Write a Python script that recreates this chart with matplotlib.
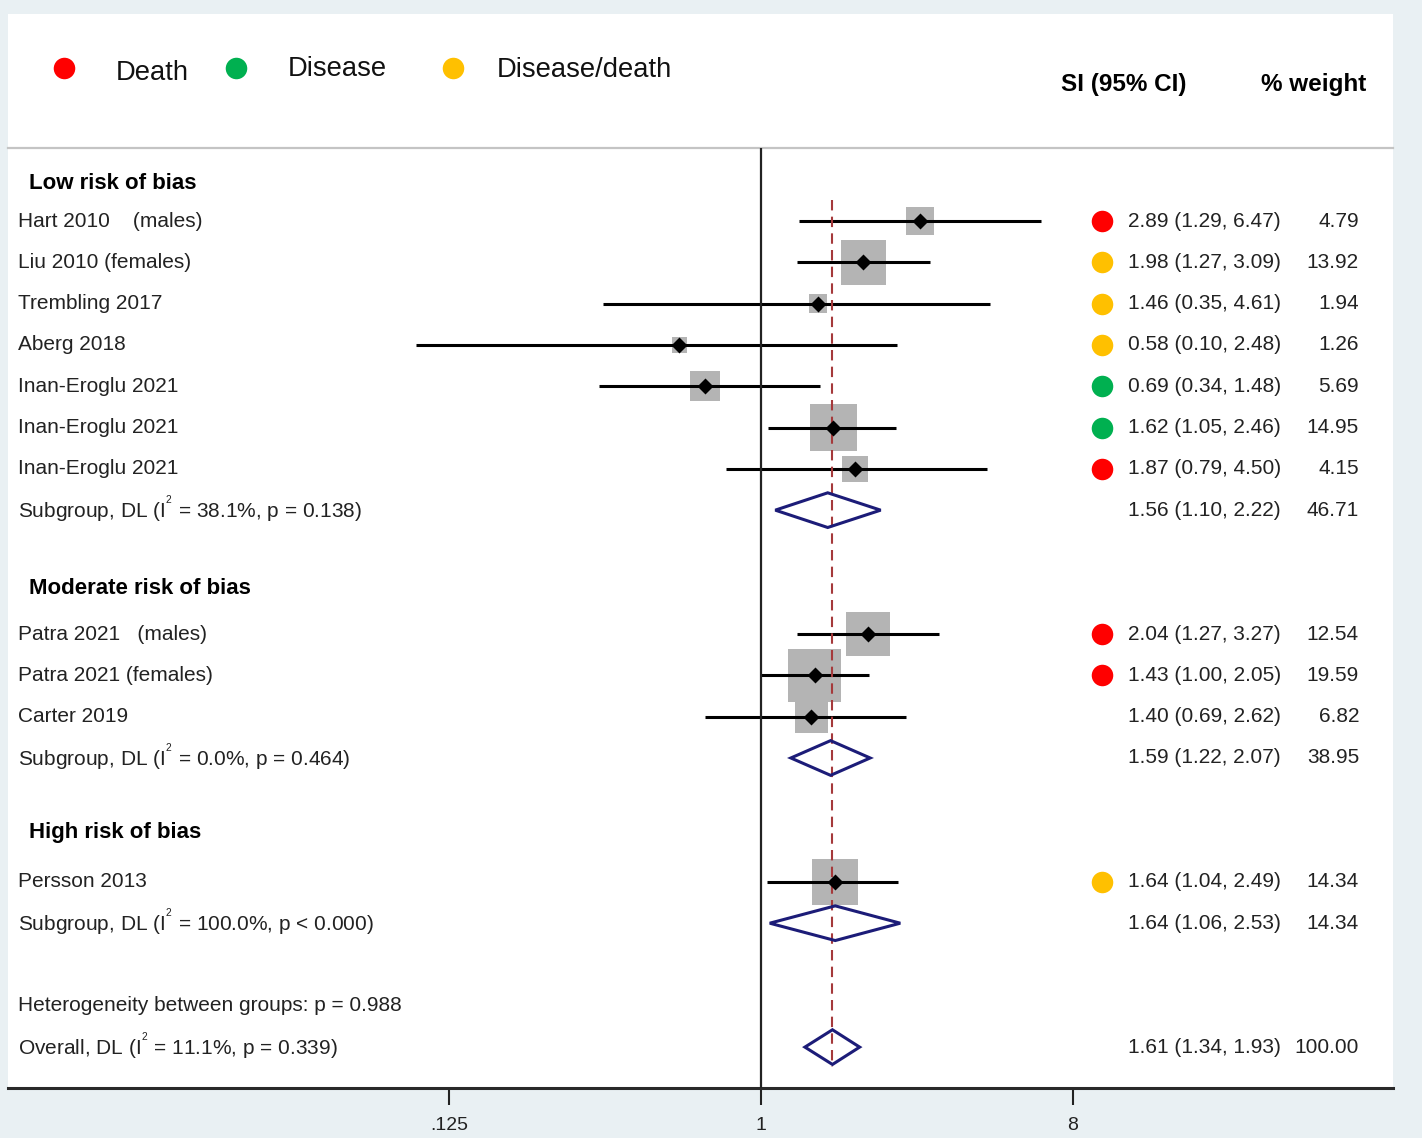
import numpy as np
import matplotlib.pyplot as plt
from matplotlib.patches import Polygon, Rectangle
from matplotlib.ticker import NullLocator
from matplotlib.transforms import blended_transform_factory

plt.rcParams['font.family'] = ['Liberation Sans', 'DejaVu Sans']
plt.rcParams['mathtext.fontset'] = 'custom'
plt.rcParams['mathtext.rm'] = 'Liberation Sans'

# study level data
studies = ["Hart 2010    (males)", "Liu 2010 (females)", "Trembling 2017", "Aberg 2018",
           "Inan-Eroglu 2021", "Inan-Eroglu 2021", "Inan-Eroglu 2021",
           "Patra 2021   (males)", "Patra 2021 (females)", "Carter 2019", "Persson 2013"]
est = [2.89, 1.98, 1.46, 0.58, 0.69, 1.62, 1.87, 2.04, 1.43, 1.40, 1.64]
lo = [1.29, 1.27, 0.35, 0.10, 0.34, 1.05, 0.79, 1.27, 1.00, 0.69, 1.04]
hi = [6.47, 3.09, 4.61, 2.48, 1.48, 2.46, 4.50, 3.27, 2.05, 2.62, 2.49]
weight = [4.79, 13.92, 1.94, 1.26, 5.69, 14.95, 4.15, 12.54, 19.59, 6.82, 14.34]
outcome = ["Death", "Disease/death", "Disease/death", "Disease/death", "Disease", "Disease",
           "Death", "Death", "Death", "", "Disease/death"]
study_rows = [1, 2, 3, 4, 5, 6, 7, 11, 12, 13, 17]

# subgroups
groups = ["Low risk of bias", "Moderate risk of bias", "High risk of bias"]
group_rows = [0.1, 9.9, 15.8]
sub_labels = ["Subgroup, DL ($\\mathregular{I^{^2}}$ = 38.1%, p = 0.138)",
              "Subgroup, DL ($\\mathregular{I^{^2}}$ = 0.0%, p = 0.464)",
              "Subgroup, DL ($\\mathregular{I^{^2}}$ = 100.0%, p < 0.000)"]
sub_est = [1.56, 1.59, 1.64]
sub_lo = [1.10, 1.22, 1.06]
sub_hi = [2.22, 2.07, 2.53]
sub_weight = [46.71, 38.95, 14.34]
sub_rows = [8, 14, 18]

# overall
het_label = "Heterogeneity between groups: p = 0.988"
het_row = 20
overall_label = "Overall, DL ($\\mathregular{I^{^2}}$ = 11.1%, p = 0.339)"
ov_est, ov_lo, ov_hi, ov_weight = 1.61, 1.34, 1.93, 100.00
ov_row = 21

outcome_colors = {"Death": "#ff0000", "Disease": "#00b050", "Disease/death": "#ffc000"}

W, H = 1422, 1138
fig = plt.figure(figsize=(W / 100, H / 100), dpi=100, facecolor='#e9f0f3')
fig.add_artist(Rectangle((8 / W, 50 / H), 1385 / W, 1074 / H, transform=fig.transFigure,
                         facecolor='white', edgecolor='none', zorder=-5))

# header area in pixel coords
axh = fig.add_axes([8 / W, 990 / H, 1385 / W, 134 / H])
axh.set_xlim(8, 1393)
axh.set_ylim(148, 14)
axh.axis('off')
leg_x = [64, 236, 453]
leg_tx = [116, 288, 497]
leg_ty = [73, 69, 70]
for name, x, tx, ty in zip(["Death", "Disease", "Disease/death"], leg_x, leg_tx, leg_ty):
    axh.plot(x, 68, 'o', ms=15.5, color=outcome_colors[name], mec='none')
    axh.text(tx, ty, name, fontsize=19.7, va='center', ha='left', color='#111111')
axh.text(1124, 85, "SI (95% CI)", fontsize=17.5, fontweight='bold', ha='center', va='center')
axh.text(1314, 85, "% weight", fontsize=17.5, fontweight='bold', ha='center', va='center')

# forest plot
ax = fig.add_axes([8 / W, 50 / H, 1385 / W, 940 / H])
ax.set_xscale('log', base=2)
ax.set_xlim(2 ** ((8 - 761) / 104), 2 ** ((1393 - 761) / 104))
ax.set_ylim(21.99, -0.768)
ax.patch.set_alpha(0)
for s in ['left', 'right']:
    ax.spines[s].set_visible(False)
ax.spines['top'].set_color('#c4c4c4')
ax.spines['top'].set_linewidth(1.6)
ax.spines['bottom'].set_color('#2a2a2a')
ax.spines['bottom'].set_linewidth(2.2)
ax.set_yticks([])
ax.set_xticks([0.125, 1, 8])
ax.set_xticklabels(['.125', '1', '8'])
ax.xaxis.set_minor_locator(NullLocator())
ax.tick_params(axis='x', length=12, width=1.5, pad=9, labelsize=14, colors='#222222')

trans = blended_transform_factory(ax.transAxes, ax.transData)


def fx(px):
    return (px - 8) / 1385


side = (11.5 * np.sqrt(weight) + 2.5) * 0.72
ax.scatter(est, study_rows, marker='s', s=side ** 2, color='#b4b4b4', linewidths=0, zorder=2)
ax.hlines(study_rows, lo, hi, color='black', lw=2.2, zorder=3)
ax.axvline(1, color='#222222', lw=1.6, zorder=3)
ax.plot([ov_est, ov_est], [0.49, 21.48], color='#a5393b', lw=1.5, dashes=(5, 3), zorder=4)
ax.plot(est, study_rows, 'D', color='black', ms=7.8, mec='none', zorder=5)

dh = 0.42
for e, l, h, r in zip(sub_est + [ov_est], sub_lo + [ov_lo], sub_hi + [ov_hi], sub_rows + [ov_row]):
    ax.add_patch(Polygon([(l, r), (e, r - dh), (h, r), (e, r + dh)], closed=True, fill=False,
                         edgecolor='#1c1c78', lw=2.2, zorder=4))

txt = dict(fontsize=15, va='center', color='#222222', transform=trans)
for g, r in zip(groups, group_rows):
    ax.text(fx(29), r, g, fontsize=16, fontweight='bold', va='center', color='black', transform=trans)
for name, e, l, h, w, oc, r in zip(studies, est, lo, hi, weight, outcome, study_rows):
    ax.text(fx(18), r, name, ha='left', **txt)
    ax.text(fx(1281), r, f"{e:.2f} ({l:.2f}, {h:.2f})", ha='right', **txt)
    ax.text(fx(1359), r, f"{w:.2f}", ha='right', **txt)
    if oc:
        ax.plot(fx(1102), r, 'o', ms=15.5, color=outcome_colors[oc], mec='none', transform=trans)
for lab, e, l, h, w, r in zip(sub_labels, sub_est, sub_lo, sub_hi, sub_weight, sub_rows):
    ax.text(fx(18), r, lab, ha='left', **txt)
    ax.text(fx(1281), r, f"{e:.2f} ({l:.2f}, {h:.2f})", ha='right', **txt)
    ax.text(fx(1359), r, f"{w:.2f}", ha='right', **txt)
ax.text(fx(18), het_row, het_label, ha='left', **txt)
ax.text(fx(18), ov_row, overall_label, ha='left', **txt)
ax.text(fx(1281), ov_row, f"{ov_est:.2f} ({ov_lo:.2f}, {ov_hi:.2f})", ha='right', **txt)
ax.text(fx(1359), ov_row, f"{ov_weight:.2f}", ha='right', **txt)

fig.savefig('out.png', dpi=100, facecolor=fig.get_facecolor())
